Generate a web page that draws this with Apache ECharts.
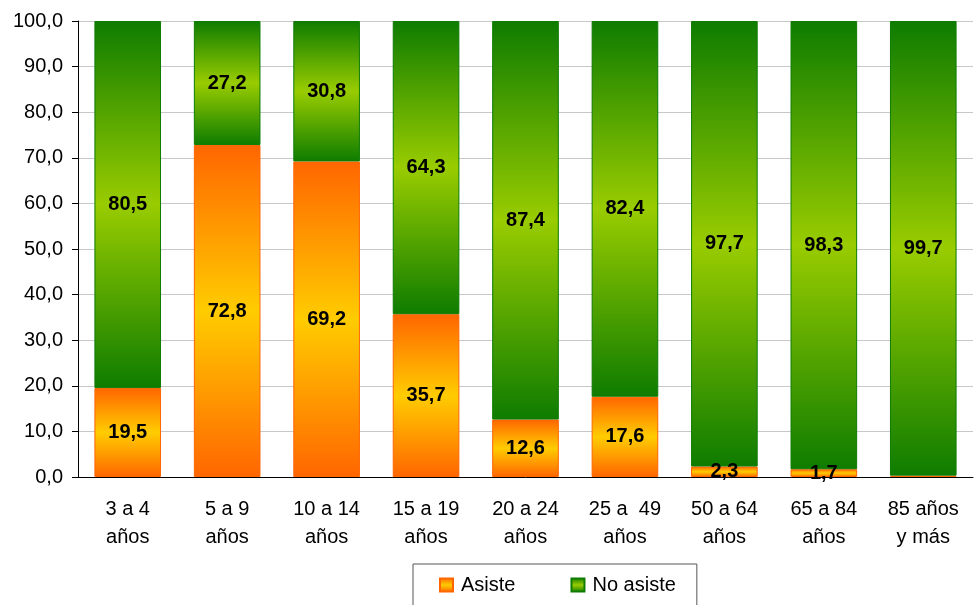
<!DOCTYPE html>
<html><head><meta charset="utf-8">
<script src="https://cdn.jsdelivr.net/npm/echarts@6/dist/echarts.min.js"></script>
<style>html,body{margin:0;padding:0;background:#fff}#c{width:975px;height:605px}</style>
</head><body><div id="c"></div>
<script>
const categories = ["3 a 4\naños","5 a 9\naños","10 a 14\naños","15 a 19\naños","20 a 24\naños","25 a  49\naños","50 a 64\naños","65 a 84\naños","85 años\ny más"];
const asiste = [19.5,72.8,69.2,35.7,12.6,17.6,2.3,1.7,0.3];
const noAsiste = [80.5,27.2,30.8,64.3,87.4,82.4,97.7,98.3,99.7];
const font = "'Liberation Sans', Arial, sans-serif";
function grad(a,b){return {type:'linear',x:0,y:0,x2:0,y2:1,colorStops:[{offset:0,color:a},{offset:0.5,color:b},{offset:1,color:a}]};}
const chart = echarts.init(document.getElementById('c'));
const lbl = {show:true,position:'inside',color:'#000',fontWeight:'bold',fontSize:20,fontFamily:font,
  formatter:p=>p.value<1?'':p.value.toFixed(1).replace('.',',')};
chart.setOption({
  animation:false,
  grid:{left:78,right:2,top:21,bottom:128},
  legend:{top:564,left:413,padding:[11,21,20,26],itemGap:55,borderColor:'#555',borderWidth:1,
    itemWidth:13,itemHeight:13,textStyle:{fontSize:20,fontFamily:font,color:'#000',padding:[0,0,0,3]},
    data:[{name:'Asiste',icon:'rect'},{name:'No asiste',icon:'rect'}]},
  xAxis:{type:'category',data:categories,
    axisLine:{lineStyle:{color:'#000'}},axisTick:{length:6,lineStyle:{color:'#000'}},
    axisLabel:{fontSize:20,fontFamily:font,color:'#000',margin:18,lineHeight:28,interval:0}},
  yAxis:{type:'value',min:0,max:100,interval:10,
    axisLine:{show:true,lineStyle:{color:'#000'}},axisTick:{show:true,length:6,lineStyle:{color:'#000'}},
    splitLine:{lineStyle:{color:'#c8c8c8'}},
    axisLabel:{fontSize:20,fontFamily:font,color:'#000',margin:15,formatter:v=>v.toFixed(1).replace('.',',')}},
  series:[
    {name:'Asiste',type:'bar',stack:'t',data:asiste,barCategoryGap:'33%',
     itemStyle:{color:grad('#FF6600','#FFCC00'),borderColor:'#FF6600',borderWidth:1},label:lbl},
    {name:'No asiste',type:'bar',stack:'t',data:noAsiste,
     itemStyle:{color:grad('#0E7C00','#99CC00'),borderColor:'#0E7C00',borderWidth:1},label:lbl}
  ]
});
</script></body></html>
